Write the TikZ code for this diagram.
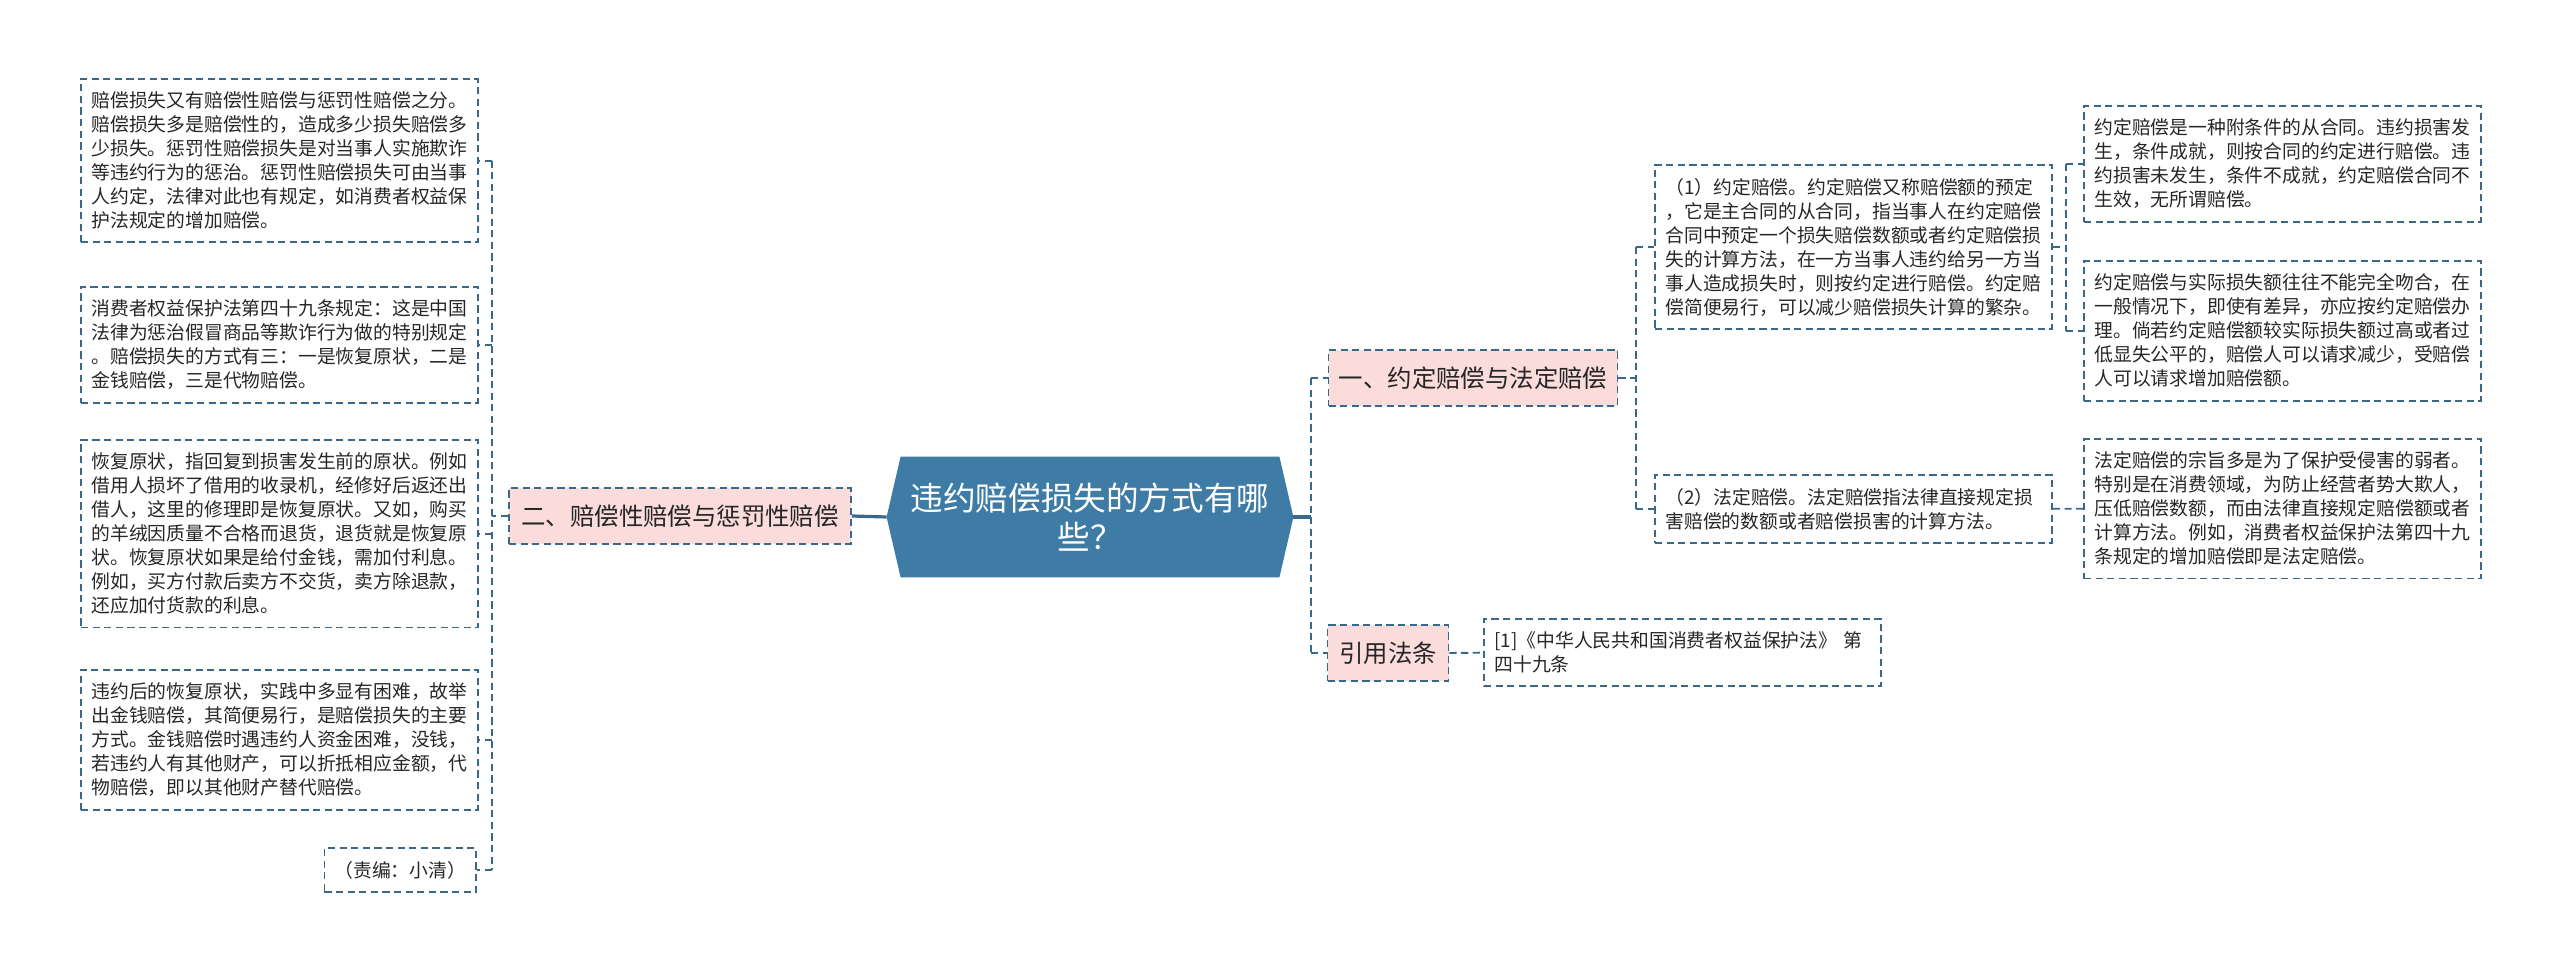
\documentclass[tikz,border=0pt]{standalone}
\usepackage{fontspec}
\setmainfont{Noto Sans CJK SC}
\usetikzlibrary{backgrounds}

\definecolor{linecol}{RGB}{58,104,138}
\definecolor{rootcol}{RGB}{62,123,165}
\definecolor{topicfill}{RGB}{250,220,219}
\definecolor{textcol}{RGB}{38,38,38}

\begin{document}
\begin{tikzpicture}[
  x=0.5pt, y=-0.5pt,
  dashline/.style={dash pattern=on 3.6pt off 2.2pt},
  link/.style={draw=linecol, line width=0.95pt, dashline},
  rootlink/.style={draw=linecol, line width=1.6pt},
  leaf/.style={
    draw=linecol,
    line width=0.95pt,
    dashline,
    text=textcol,
    align=left,
    text width=188pt,
    inner xsep=5.25pt,
    inner ysep=6.5pt,
    anchor=north west,
    font=\fontsize{9.4}{12}\selectfont
  },
  topic/.style={
    draw=linecol,
    line width=0.95pt,
    dashline,
    fill=topicfill,
    text=textcol,
    inner sep=0pt,
    minimum height=28pt,
    font=\fontsize{12.2}{14}\selectfont
  },
  rootbox/.style={
    text=white,
    align=center,
    minimum width=203pt,
    minimum height=60pt,
    inner sep=0pt,
    font=\fontsize{16.3}{19.5}\selectfont
  }
]
\useasboundingbox (0,0) rectangle (2560,973);

% centre
\node[rootbox] (root) at (1090,517) {违约赔偿损失的方式有哪\\些？};
\begin{scope}[on background layer]
  \fill[rootcol] ([xshift=7pt]root.north west) -- ([xshift=-7pt]root.north east) -- (root.east)
    -- ([xshift=-7pt]root.south east) -- ([xshift=7pt]root.south west) -- (root.west) -- cycle;
\end{scope}

% left branch
\node[topic, minimum width=171pt] (t2) at (680,516) {二、赔偿性赔偿与惩罚性赔偿};

\node[leaf] (l1) at (80,78) {赔偿损失又有赔偿性赔偿与惩罚性赔偿之分。\\赔偿损失多是赔偿性的，造成多少损失赔偿多\\少损失。惩罚性赔偿损失是对当事人实施欺诈\\等违约行为的惩治。惩罚性赔偿损失可由当事\\人约定，法律对此也有规定，如消费者权益保\\护法规定的增加赔偿。};
\node[leaf] (l2) at (80,286) {消费者权益保护法第四十九条规定：这是中国\\法律为惩治假冒商品等欺诈行为做的特别规定\\。赔偿损失的方式有三：一是恢复原状，二是\\金钱赔偿，三是代物赔偿。};
\node[leaf] (l3) at (80,439) {恢复原状，指回复到损害发生前的原状。例如\\借用人损坏了借用的收录机，经修好后返还出\\借人，这里的修理即是恢复原状。又如，购买\\的羊绒因质量不合格而退货，退货就是恢复原\\状。恢复原状如果是给付金钱，需加付利息。\\例如，买方付款后卖方不交货，卖方除退款，\\还应加付货款的利息。};
\node[leaf] (l4) at (80,669) {违约后的恢复原状，实践中多显有困难，故举\\出金钱赔偿，其简便易行，是赔偿损失的主要\\方式。金钱赔偿时遇违约人资金困难，没钱，\\若违约人有其他财产，可以折抵相应金额，代\\物赔偿，即以其他财产替代赔偿。};
\node[leaf, text width=, align=center, anchor=east, inner xsep=5pt] (l5) at (477,870) {（责编：小清）};

\coordinate (lbus) at (492,516);
\draw[link] (lbus |- l1.east) -- (lbus |- l5.east);
\foreach \n in {l1,l2,l3,l4,l5}
  \draw[link] (lbus |- \n.east) -- (\n.east);
\draw[link] (t2.west) -- (lbus);
\draw[rootlink] (root.west) -- (t2.east);

% right branch
\node[topic, minimum width=144.5pt] (t1) at (1473,378) {一、约定赔偿与法定赔偿};
\node[topic, minimum width=60.5pt] (t3) at (1388,653) {引用法条};

\coordinate (rbus) at (1311,517);
\draw[rootlink] (root.east) -- (rbus);
\draw[link] (rbus |- t1.west) -- (rbus |- t3.west);
\foreach \n in {t1,t3}
  \draw[link] (rbus |- \n.west) -- (\n.west);

\node[leaf] (r1) at (1654,164) {（1）约定赔偿。约定赔偿又称赔偿额的预定\\，它是主合同的从合同，指当事人在约定赔偿\\合同中预定一个损失赔偿数额或者约定赔偿损\\失的计算方法，在一方当事人违约给另一方当\\事人造成损失时，则按约定进行赔偿。约定赔\\偿简便易行，可以减少赔偿损失计算的繁杂。};
\node[leaf] (r2) at (1654,474) {（2）法定赔偿。法定赔偿指法律直接规定损\\害赔偿的数额或者赔偿损害的计算方法。};
\node[leaf] (cite) at (1483,618) {[1]《中华人民共和国消费者权益保护法》 第\\四十九条};

\coordinate (sbus) at (1636,378);
\draw[link] (t1.east) -- (sbus);
\draw[link] (sbus |- r1.west) -- (sbus |- r2.west);
\foreach \n in {r1,r2}
  \draw[link] (sbus |- \n.west) -- (\n.west);
\draw[link] (t3.east) -- (cite.west);

\node[leaf] (a1) at (2083,105) {约定赔偿是一种附条件的从合同。违约损害发\\生，条件成就，则按合同的约定进行赔偿。违\\约损害未发生，条件不成就，约定赔偿合同不\\生效，无所谓赔偿。};
\node[leaf] (a2) at (2083,260) {约定赔偿与实际损失额往往不能完全吻合，在\\一般情况下，即使有差异，亦应按约定赔偿办\\理。倘若约定赔偿额较实际损失额过高或者过\\低显失公平的，赔偿人可以请求减少，受赔偿\\人可以请求增加赔偿额。};
\node[leaf] (a3) at (2083,438) {法定赔偿的宗旨多是为了保护受侵害的弱者。\\特别是在消费领域，为防止经营者势大欺人，\\压低赔偿数额，而由法律直接规定赔偿额或者\\计算方法。例如，消费者权益保护法第四十九\\条规定的增加赔偿即是法定赔偿。};

\coordinate (abus) at (2066,247);
\draw[link] (r1.east) -- (abus |- r1.east);
\draw[link] (abus |- a1.west) -- (abus |- a2.west);
\foreach \n in {a1,a2}
  \draw[link] (abus |- \n.west) -- (\n.west);
\draw[link] (r2.east) -- (a3.west);

\end{tikzpicture}
\end{document}
